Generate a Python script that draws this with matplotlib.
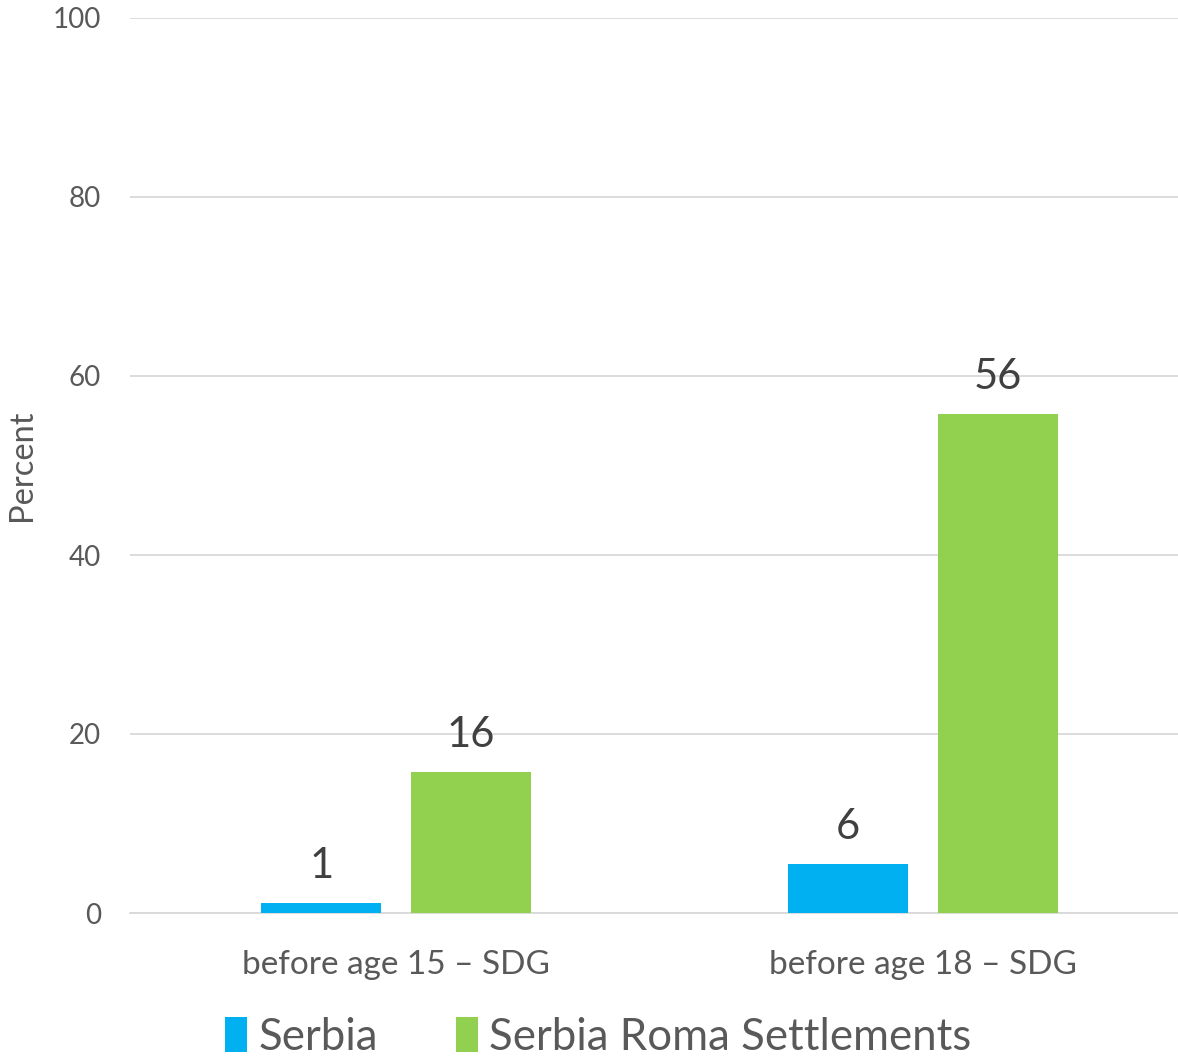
import matplotlib
matplotlib.use("Agg")
import matplotlib.pyplot as plt
import numpy as np

categories = ["before age 15 – SDG", "before age 18 – SDG"]
series_names = ["Serbia", "Serbia Roma Settlements"]
serbia = [1.1, 5.5]
roma = [15.8, 55.7]
serbia_labels = ["1", "6"]
roma_labels = ["16", "56"]
yticks = [0, 20, 40, 60, 80, 100]

plt.rcParams['font.family'] = ['Lato', 'DejaVu Sans']

fig = plt.figure(figsize=(11.78, 10.58), dpi=100)
ax = fig.add_axes([130/1178, (1058-913)/1058, 1048/1178, 895/1058])

x = np.arange(len(categories))
w = 0.228
off = 0.142
c1, c2 = "#00b0f0", "#92d050"
b1 = ax.bar(x - off, serbia, w, color=c1, label=series_names[0], zorder=3)
b2 = ax.bar(x + off, roma, w, color=c2, label=series_names[1], zorder=3)

for rect, lab in zip(b1, serbia_labels):
    ax.annotate(lab, (rect.get_x() + rect.get_width()/2, rect.get_height()),
                xytext=(0, 13), textcoords="offset points", ha="center", va="bottom",
                fontsize=30, color="#404040")
for rect, lab in zip(b2, roma_labels):
    ax.annotate(lab, (rect.get_x() + rect.get_width()/2, rect.get_height()),
                xytext=(0, 13), textcoords="offset points", ha="center", va="bottom",
                fontsize=30, color="#404040")

ax.set_xlim(-0.505, 1.484)
ax.set_ylim(0, 100)
ax.set_yticks(yticks)
ax.set_yticklabels([str(t) for t in yticks])
ax.set_xticks(x)
ax.set_xticklabels(categories)
ax.tick_params(axis="both", length=0, colors="#595959")
ax.tick_params(axis="y", pad=21, labelsize=20)
ax.tick_params(axis="x", pad=27, labelsize=24)
ax.grid(axis="y", color="#d9d9d9", linewidth=1.3, zorder=0)
for s in ["top", "right", "left"]:
    ax.spines[s].set_visible(False)
ax.spines["bottom"].set_color("#d9d9d9")
ax.spines["bottom"].set_linewidth(1.3)
ax.set_ylabel("Percent", fontsize=23.5, color="#595959")
ax.yaxis.set_label_coords(-93/1048, 0.5)

leg = fig.legend(loc="center", bbox_to_anchor=(0.508, 1 - 1037/1058), ncol=2, frameon=False,
                 fontsize=31.5, labelcolor="#595959", handlelength=0.5, handleheight=0.85,
                 handletextpad=0.25, columnspacing=1.8)

fig.savefig("out.png", dpi=100, facecolor="white")
